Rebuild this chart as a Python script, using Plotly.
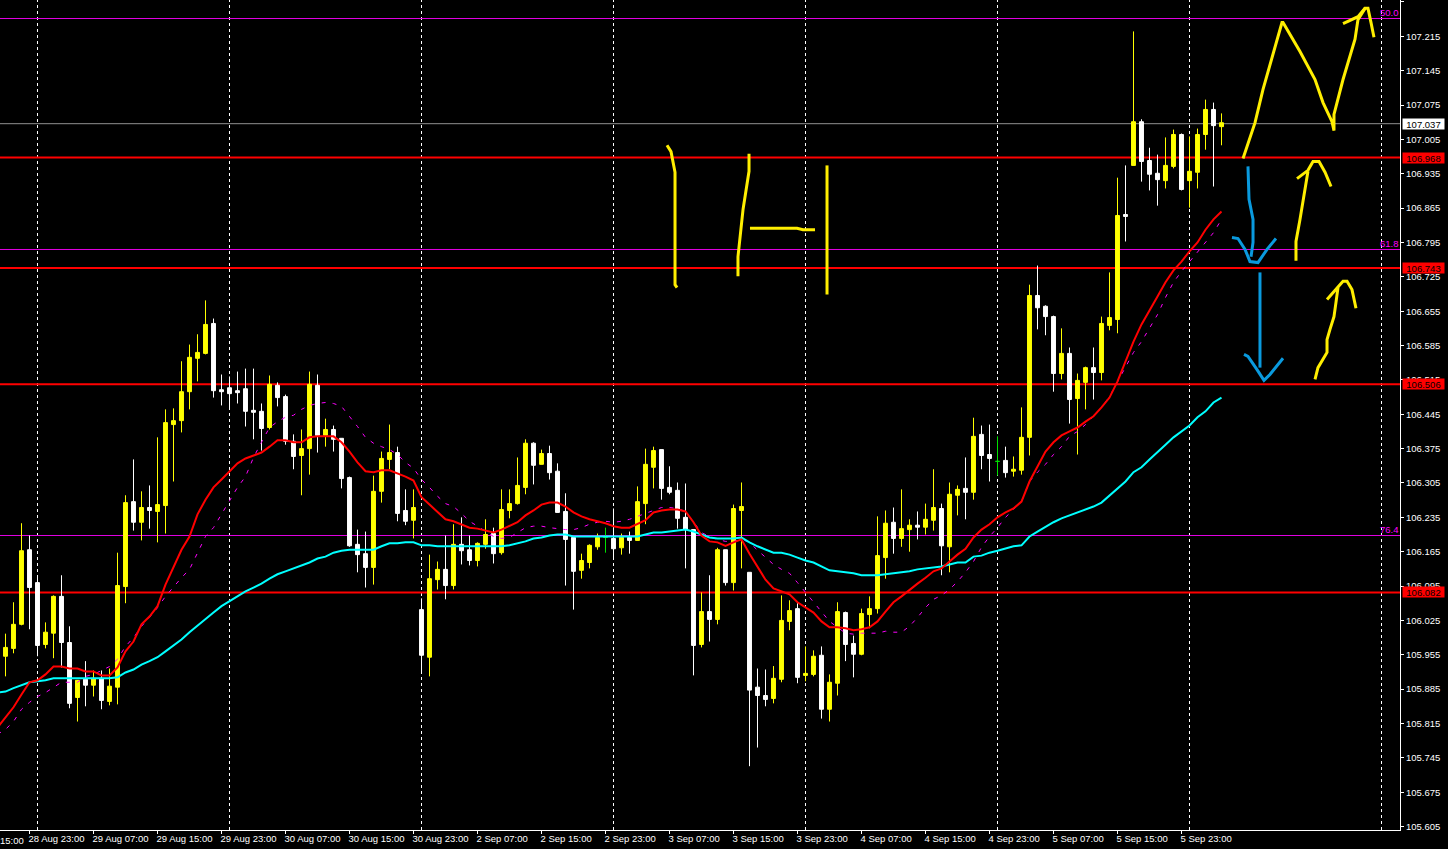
import plotly.graph_objects as go

# --- candles, bar 0 is the first visible hour ------------------------------
direction = list(
    "UUUDDUUDDU" "DUDUUUDUDU" "UUUUUUDDDD" "DDDUDDDUUD" "UDDDDDUUUD"
    "DUDUUDUDDU" "UDUUUUDUDD" "DDUUUFDUDU" "UUDDDDDUDU" "DUUDDDUUUD"
    "UUDUUDDUUU" "UDUUDUUDUU" "DUDDFDUUUD" "DDUDUUDUUU" "DUDDDUUDUU"
    "UDU"
)
highs = [105.998,106.062,106.223,106.198,106.112,106.021,106.076,106.117,106.013,105.903,
105.942,105.923,105.923,105.927,106.163,106.280,106.353,106.288,106.300,106.398,
106.455,106.457,106.553,106.587,106.608,106.677,106.640,106.526,106.522,106.532,
106.538,106.538,106.467,106.524,106.510,106.485,106.404,106.414,106.532,106.526,
106.436,106.422,106.396,106.318,106.210,106.206,106.320,106.369,106.424,106.379,
106.292,106.292,106.070,106.159,106.145,106.198,106.221,106.235,106.198,106.184,
106.231,106.214,106.292,106.292,106.357,106.394,106.388,106.373,106.381,106.345,
106.284,106.194,106.161,106.180,106.202,106.214,106.253,106.202,106.206,106.298,
106.375,106.379,106.373,106.339,106.306,106.304,106.210,106.082,106.117,106.173,
106.169,106.261,106.306,106.123,105.927,105.925,105.932,106.076,106.066,106.060,
105.972,105.964,105.972,105.915,106.062,106.043,105.994,106.049,106.074,106.237,
106.249,106.255,106.292,106.231,106.247,106.263,106.333,106.263,106.306,106.300,
106.357,106.438,106.422,106.424,106.400,106.379,106.359,106.459,106.709,106.748,
106.667,106.646,106.620,106.581,106.528,106.542,106.581,106.644,106.734,106.927,
106.952,107.225,107.046,106.988,106.974,107.009,107.025,107.017,107.011,107.027,
107.086,107.080,107.058]
body_tops = [105.970,106.017,106.167,106.169,106.102,106.001,106.074,106.074,105.980,105.903,
105.905,105.907,105.907,105.891,106.096,106.265,106.267,106.255,106.255,106.261,
106.428,106.432,106.491,106.561,106.571,106.628,106.630,106.495,106.499,106.493,
106.497,106.453,106.451,106.506,106.504,106.481,106.390,106.375,106.506,106.504,
106.414,106.414,106.396,106.316,106.180,106.161,106.288,106.355,106.367,106.367,
106.249,106.255,106.047,106.110,106.129,106.129,106.180,106.180,106.169,106.182,
106.200,106.202,106.251,106.263,106.300,106.386,106.386,106.365,106.365,106.329,
106.247,106.194,106.147,106.178,106.194,106.194,106.192,106.194,106.194,106.267,
106.343,106.371,106.373,106.296,106.290,106.235,106.210,106.043,106.043,106.169,
106.169,106.253,106.257,106.123,105.889,105.872,105.907,106.025,106.045,106.049,
105.917,105.952,105.954,105.899,106.043,106.041,105.978,106.039,106.049,106.157,
106.223,106.225,106.212,106.219,106.219,106.231,106.255,106.253,106.282,106.292,
106.294,106.400,106.404,106.363,106.349,106.351,106.333,106.398,106.687,106.687,
106.665,106.644,106.569,106.569,106.514,106.540,106.540,106.630,106.642,106.850,
106.852,107.041,107.041,106.962,106.936,106.952,107.015,107.015,106.940,107.015,
107.066,107.066,107.039]
body_bottoms = [105.952,105.968,106.017,106.092,105.974,105.976,105.999,105.980,105.856,105.868,
105.893,105.893,105.862,105.860,105.889,106.094,106.225,106.225,106.249,106.247,
106.259,106.424,106.432,106.491,106.559,106.569,106.493,106.491,106.487,106.489,
106.451,106.449,106.416,106.418,106.479,106.390,106.359,106.361,106.375,106.402,
106.402,106.394,106.314,106.177,106.159,106.133,106.133,106.288,106.353,106.243,
106.227,106.229,105.954,105.950,106.108,106.096,106.096,106.167,106.147,106.147,
106.180,106.161,106.163,106.249,106.263,106.296,106.341,106.343,106.326,106.245,
106.190,106.125,106.127,106.143,106.175,106.194,106.171,106.173,106.188,106.188,
106.263,106.337,106.294,106.286,106.233,106.210,105.974,105.976,106.027,106.027,
106.102,106.102,106.249,105.883,105.872,105.864,105.866,105.905,106.023,105.909,
105.913,105.915,105.844,105.844,105.897,105.976,105.956,105.956,106.037,106.049,
106.153,106.192,106.192,106.210,106.215,106.215,106.229,106.177,106.175,106.280,
106.286,106.286,106.361,106.355,106.349,106.326,106.329,106.331,106.398,106.662,
106.644,106.528,106.528,106.475,106.477,106.510,106.530,106.530,106.626,106.638,
106.848,106.952,106.960,106.934,106.923,106.921,106.950,106.903,106.921,106.938,
107.015,107.033,107.031]
lows = [105.911,105.958,106.015,106.007,105.952,105.968,105.948,105.929,105.846,105.819,
105.850,105.870,105.844,105.852,105.854,106.060,106.208,106.188,106.212,106.184,
106.202,106.308,106.408,106.455,106.512,106.567,106.479,106.463,106.455,106.467,
106.420,106.394,106.371,106.414,106.461,106.383,106.333,106.280,106.322,106.367,
106.379,106.369,106.294,106.175,106.123,106.092,106.098,106.265,106.333,106.227,
106.219,106.192,105.917,105.911,106.088,106.068,106.088,106.139,106.137,106.135,
106.171,106.141,106.159,106.233,106.261,106.282,106.302,106.343,106.312,106.245,
106.096,106.047,106.110,106.131,106.169,106.163,106.149,106.159,106.161,106.188,
106.221,106.294,106.271,106.282,106.212,106.131,105.913,105.970,105.982,106.017,
106.096,106.086,106.131,105.728,105.766,105.850,105.856,105.899,106.005,105.897,
105.901,105.911,105.825,105.819,105.872,105.942,105.909,105.954,106.009,106.039,
106.110,106.161,106.175,106.165,106.190,106.200,106.208,106.117,106.123,106.239,
106.231,106.271,106.333,106.308,106.320,106.316,106.318,106.322,106.361,106.618,
106.606,106.491,106.516,106.426,106.363,106.455,106.475,106.514,106.616,106.610,
106.797,106.952,106.919,106.901,106.870,106.905,106.946,106.901,106.866,106.905,
106.984,106.909,106.993]

# --- moving averages, starting one bar before the first visible candle ------
ma_red = [105.807,105.828,105.848,105.874,105.899,105.903,105.915,105.931,105.931,105.927,105.927,
105.921,105.921,105.913,105.913,105.929,105.962,105.982,106.017,106.033,106.054,
106.098,106.133,106.169,106.196,106.241,106.271,106.296,106.312,106.329,106.345,
106.355,106.361,106.367,106.379,106.392,106.392,106.388,106.388,106.398,106.400,
106.400,106.400,106.388,106.369,106.347,106.329,106.327,106.331,106.331,106.325,
106.318,106.310,106.276,106.261,106.245,106.231,106.227,106.221,106.214,106.212,
106.208,106.204,106.210,106.217,106.225,106.239,106.249,106.261,106.265,106.265,
106.257,106.245,106.237,106.231,106.227,106.223,106.217,106.214,106.214,106.221,
106.229,106.245,106.249,106.251,106.251,106.247,106.225,106.198,106.186,106.184,
106.177,106.184,106.190,106.161,106.133,106.108,106.090,106.084,106.078,106.062,
106.051,106.041,106.023,106.011,106.011,106.009,106.005,106.007,106.011,106.023,
106.043,106.062,106.074,106.088,106.100,106.112,106.125,106.131,106.145,106.159,
106.171,106.194,106.210,106.221,106.235,106.245,106.253,106.267,106.308,106.339,
106.369,106.388,106.402,106.410,106.418,106.430,106.441,106.459,106.479,106.512,
106.551,106.593,106.628,106.658,106.685,106.714,106.738,106.756,106.777,106.795,
106.821,106.842,106.858]
ma_cyan = [105.878,105.880,105.887,105.893,105.899,105.901,105.903,105.907,105.907,105.907,105.907,
105.907,105.907,105.907,105.907,105.909,105.919,105.925,105.935,105.942,105.950,
105.962,105.974,105.986,106.001,106.015,106.029,106.041,106.054,106.064,106.074,
106.084,106.092,106.100,106.110,106.119,106.125,106.131,106.137,106.143,106.151,
106.155,106.163,106.167,106.169,106.169,106.169,106.169,106.176,106.182,106.182,
106.184,106.184,106.178,106.178,106.176,106.176,106.176,106.176,106.176,106.176,
106.176,106.176,106.176,106.178,106.182,106.186,106.192,106.194,106.198,106.200,
106.200,106.196,106.196,106.196,106.196,106.196,106.196,106.196,106.196,106.196,
106.200,106.204,106.204,106.206,106.208,106.210,106.206,106.200,106.194,106.192,
106.192,106.192,106.194,106.184,106.176,106.169,106.163,106.163,106.159,106.153,
106.147,106.143,106.135,106.127,106.125,106.123,106.121,106.117,106.117,106.117,
106.119,106.121,106.123,106.125,106.129,106.131,106.133,106.135,106.139,106.143,
106.143,106.155,106.157,106.163,106.167,106.172,106.176,106.178,106.196,106.206,
106.216,106.225,106.233,106.239,106.245,106.251,106.257,106.265,106.280,106.294,
106.308,106.327,106.337,106.353,106.367,106.383,106.398,106.410,106.422,106.439,
106.451,106.469,106.479]
ma_magenta = [105.793,105.803,105.819,105.844,105.858,105.870,105.878,105.889,105.899,105.899,105.899,
105.911,105.915,105.923,105.931,105.946,105.972,105.990,106.013,106.031,106.051,
106.074,106.094,106.112,106.129,106.163,106.196,106.214,106.241,106.267,106.296,
106.318,106.357,106.388,106.418,106.430,106.439,106.443,106.455,106.463,106.467,
106.469,106.467,106.461,106.441,106.420,106.398,106.386,106.379,106.373,106.363,
106.347,106.335,106.312,106.296,106.278,106.263,106.257,106.243,106.227,106.217,
106.206,106.196,106.192,106.194,106.204,106.214,106.217,106.217,106.214,106.212,
106.210,106.210,106.214,106.221,106.225,106.227,106.225,106.227,106.231,106.237,
106.243,106.249,106.255,106.255,106.253,106.247,106.225,106.204,106.196,106.190,
106.186,106.186,106.190,106.184,106.168,106.153,106.139,106.129,106.121,106.102,
106.082,106.062,106.041,106.023,106.011,105.999,105.997,105.999,105.999,105.999,
106.003,106.001,106.001,106.013,106.031,106.051,106.068,106.076,106.088,106.104,
106.123,106.145,106.174,106.196,106.214,106.235,106.251,106.267,106.308,106.327,
106.343,106.363,106.379,106.400,106.410,106.424,106.441,106.459,106.481,106.510,
106.540,106.571,106.593,106.622,106.648,106.683,106.714,106.736,106.756,106.777,
106.795,106.815,106.842]

# --- horizontal levels -----------------------------------------------------
red_levels = [106.968, 106.743, 106.506, 106.082]
current_price = 107.037
fib_levels = [107.2513, 106.7807, 106.198]
fib_labels = ["50.0", "61.8", "76.4"]

# --- axes ------------------------------------------------------------------
price_ticks = [107.285,107.215,107.145,107.075,107.005,106.935,106.865,106.795,106.725,
               106.655,106.585,106.515,106.445,106.375,106.305,106.235,106.165,106.095,
               106.025,105.955,105.885,105.815,105.745,105.675,105.605]
time_tick_bars = [3,11,19,27,35,43,51,59,67,75,83,91,99,107,115,123,131,139,147]
time_labels = ["28 Aug 23:00","29 Aug 07:00","29 Aug 15:00","29 Aug 23:00","30 Aug 07:00",
               "30 Aug 15:00","30 Aug 23:00","2 Sep 07:00","2 Sep 15:00","2 Sep 23:00",
               "3 Sep 07:00","3 Sep 15:00","3 Sep 23:00","4 Sep 07:00","4 Sep 15:00",
               "4 Sep 23:00","5 Sep 07:00","5 Sep 15:00","5 Sep 23:00"]
day_separator_bars = [4,28,52,76,100,124,148,172]

# --- hand-drawn marks on the chart: (bar, price) ---------------------------
yellow_strokes = [
    ([154.69,156.19,157.19,158.31,159.56,159.69,161.81,163.69,164.69,165.81,166.06,166.06,167.19,168.69,169.06,169.94,170.31,170.69,171.06],
     [106.966,107.039,107.107,107.174,107.243,107.243,107.184,107.127,107.080,107.041,107.023,107.056,107.127,107.209,107.249,107.272,107.272,107.243,107.213]),
    ([167.19,169.06,169.94],[107.241,107.255,107.272]),
    ([161.31,161.31,161.81,162.19,162.69,162.81],[106.758,106.797,106.842,106.876,106.923,106.940]),
    ([161.44,162.81,163.44,164.19,164.94,165.69],[106.925,106.942,106.960,106.960,106.938,106.909]),
    ([163.69,164.06,165.19,165.19,165.56,166.06,166.31,166.56],[106.516,106.540,106.571,106.597,106.618,106.644,106.673,106.703]),
    ([165.19,166.56,167.19,167.69,168.31,168.81],[106.679,106.705,106.716,106.716,106.699,106.661]),
    ([82.69,83.19,83.69,83.69,83.94],[106.993,106.980,106.938,106.709,106.703]),
    ([92.94,92.94,92.19,91.81,91.56,91.56],[106.976,106.940,106.862,106.807,106.766,106.726]),
    ([93.06,98.94,99.69,101.19],[106.824,106.824,106.821,106.821]),
    ([102.69,102.69],[106.952,106.689]),
]
blue_strokes = [
    ([155.31,155.44,155.94,155.94,155.69],[106.950,106.883,106.842,106.795,106.766]),
    ([153.31,154.06,154.94,155.56,156.56,157.69,158.81],[106.805,106.803,106.781,106.756,106.754,106.781,106.803]),
    ([156.81,156.81],[106.734,106.540]),
    ([154.81,155.31,156.44,157.31,158.06,159.69],[106.567,106.563,106.536,106.514,106.526,106.559]),
]

WHITE, YELLOW, RED, MAGENTA, CYAN, GREY = "#ffffff", "#ffff00", "#ff0000", "#e000e0", "#00ffff", "#909090"
FONT = "Liberation Sans"
n = len(highs)
bars = list(range(n))
ma_bars = [-1] + bars
opens = [b if d == "U" else t for d, t, b in zip(direction, body_tops, body_bottoms)]
closes = [t if d == "U" else b for d, t, b in zip(direction, body_tops, body_bottoms)]
real = [i for i in bars if direction[i] != "F"]
flat = [i for i in bars if direction[i] == "F"]

fig = go.Figure()
fig.add_trace(go.Scatter(x=ma_bars, y=ma_magenta, mode="lines", hoverinfo="skip",
                         line=dict(color="#ff00ff", width=1, dash="4px,7px")))
fig.add_trace(go.Scatter(x=ma_bars, y=ma_cyan, mode="lines", hoverinfo="skip",
                         line=dict(color=CYAN, width=2)))
fig.add_trace(go.Scatter(x=ma_bars, y=ma_red, mode="lines", hoverinfo="skip",
                         line=dict(color=RED, width=2)))
fig.add_trace(go.Candlestick(
    x=real, open=[opens[i] for i in real], high=[highs[i] for i in real],
    low=[lows[i] for i in real], close=[closes[i] for i in real],
    whiskerwidth=0, hoverinfo="skip",
    increasing=dict(line=dict(color=YELLOW, width=1), fillcolor=YELLOW),
    decreasing=dict(line=dict(color=WHITE, width=1), fillcolor=WHITE)))
fig.add_trace(go.Candlestick(
    x=flat, open=[opens[i] for i in flat], high=[highs[i] for i in flat],
    low=[lows[i] for i in flat], close=[closes[i] for i in flat],
    whiskerwidth=0, hoverinfo="skip",
    increasing=dict(line=dict(color="#00e000", width=1), fillcolor="#00e000"),
    decreasing=dict(line=dict(color="#00e000", width=1), fillcolor="#00e000")))
for xs, ys in yellow_strokes:
    fig.add_trace(go.Scatter(x=xs, y=ys, mode="lines", hoverinfo="skip",
                             line=dict(color="#ffee00", width=3)))
for xs, ys in blue_strokes:
    fig.add_trace(go.Scatter(x=xs, y=ys, mode="lines", hoverinfo="skip",
                             line=dict(color="#0a9ade", width=3)))

for b in day_separator_bars:
    fig.add_shape(type="line", xref="x", yref="paper", x0=b, x1=b, y0=0, y1=1, layer="below",
                  line=dict(color=WHITE, width=1, dash="3px,3px"))
for lv in fib_levels:
    fig.add_hline(y=lv, layer="below", line=dict(color=MAGENTA, width=1))
fig.add_hline(y=current_price, layer="below", line=dict(color=GREY, width=1))
for lv in red_levels:
    fig.add_hline(y=lv, layer="below", line=dict(color=RED, width=2))

for lv, txt in zip(fib_levels, fib_labels):
    fig.add_annotation(xref="paper", yref="y", x=1, y=lv, text=txt, showarrow=False, xanchor="right",
                       xshift=1, yshift=6, font=dict(family=FONT, size=9.5, color="#ff00ff"))
for lv in red_levels:
    fig.add_annotation(xref="paper", yref="y", x=1, y=lv, text=f"{lv:.3f}", showarrow=False, xanchor="left",
                       xshift=2, width=41, height=10, borderpad=0, bgcolor=RED,
                       font=dict(family=FONT, size=9.5, color="#000000"))
fig.add_annotation(xref="paper", yref="y", x=1, y=current_price, text=f"{current_price:.3f}", showarrow=False,
                   xanchor="left", xshift=2, width=41, height=10, borderpad=0, bgcolor=WHITE,
                   font=dict(family=FONT, size=9.5, color="#000000"))
fig.add_annotation(xref="paper", yref="paper", x=0, y=0, text="15:00", showarrow=False, xanchor="left",
                   yanchor="top", yshift=-3, xshift=-2, font=dict(family=FONT, size=9.5, color=WHITE))

fig.update_layout(
    width=1448, height=849, margin=dict(l=0, r=48, t=0, b=19),
    paper_bgcolor="#000000", plot_bgcolor="#000000", showlegend=False, hovermode=False,
    boxgap=0.3,
    xaxis=dict(range=[-0.6875, 174.3125], rangeslider=dict(visible=False), showgrid=False, zeroline=False,
               showline=True, linecolor=WHITE, linewidth=1, ticks="outside", ticklen=3, tickcolor=WHITE,
               tickvals=time_tick_bars, ticktext=time_labels, ticklabelposition="outside right",
               ticklabelshift=-2,
               tickfont=dict(family=FONT, size=9.5, color=WHITE), tickangle=0),
    yaxis=dict(range=[105.598, 107.289], side="right", showgrid=False, zeroline=False,
               showline=True, linecolor=WHITE, linewidth=1, ticks="outside", ticklen=3, tickcolor=WHITE,
               tickvals=price_ticks, ticktext=[f"{v:.3f}" for v in price_ticks],
               tickfont=dict(family=FONT, size=9.5, color=WHITE)),
)
fig.write_html("out.html", config=dict(displayModeBar=False),
               post_script="document.body.style.margin='0';document.body.style.background='#000';document.body.style.overflow='hidden';")
